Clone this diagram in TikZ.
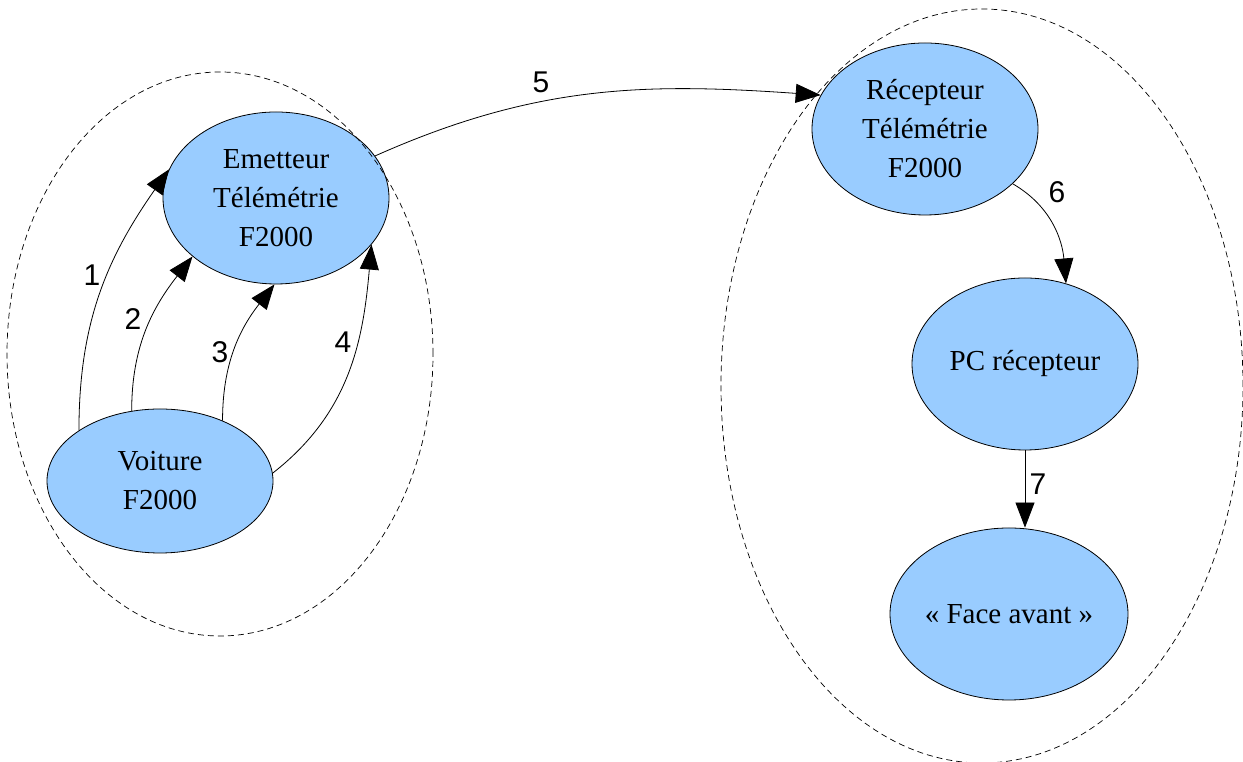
\documentclass[tikz,border=0pt]{standalone}
\usepackage{fontspec}
\setmainfont{Liberation Serif}
\newfontfamily\labelfont{Liberation Sans}
\usetikzlibrary{shapes.geometric,arrows.meta}
\definecolor{nodeblue}{HTML}{99CCFF}
\begin{document}
\begin{tikzpicture}[x=1pt,y=1pt,
  box/.style={ellipse, draw=black, line width=0.8pt, fill=nodeblue,
    minimum width=226pt, minimum height=172pt, inner sep=0pt, align=center,
    font=\fontsize{29}{39}\selectfont},
  grp/.style={ellipse, draw=black, line width=0.7pt, dash pattern=on 6pt off 4pt,
    inner sep=0pt},
  conn/.style={line width=0.8pt, -{Triangle[length=25pt,width=19pt]}},
  num/.style={inner sep=0pt, font=\labelfont\fontsize{30}{30}\selectfont}]
\useasboundingbox (0,0) rectangle (1243,762);

% nodes
\node[box] (emet) at (276,564) {Emetteur\\Télémétrie\\F2000};
\node[box, minimum height=144pt] (voit) at (160,281) {Voiture\\F2000};
\node[box] (rec) at (925,633) {Récepteur\\Télémétrie\\F2000};
\node[box] (pc) at (1025,398) {PC récepteur};
\node[box] (face) at (1009,148) {« Face avant »};

% group outlines
\node[grp, minimum width=426pt, minimum height=564pt] (gl) at (220,408) {};
\node[grp, minimum width=522pt, minimum height=754pt] (gr) at (982,376) {};

% connectors
\draw[conn] (voit.148) to[out=90, in=235] (emet.165);
\draw[conn] (voit.112) to[out=90, in=232] (emet.215);
\draw[conn] (voit.44) to[out=90, in=232] (emet.269);
\draw[conn] (voit.4) to[out=38, in=265] (emet.334);
\draw[conn] (emet.23) to[out=24, in=176] (rec.162);
\draw[conn] (rec.328) to[out=-30, in=95] (pc.63);
\draw[conn] (pc.south) -- (pc.south |- face.north);

% labels
\node[num] (l1) at (92,487) {1};
\node[num] (l2) at (133,443) {2};
\node[num] (l3) at (220,410) {3};
\node[num] (l4) at (343,420) {4};
\node[num] (l5) at (541,680) {5};
\node[num] (l6) at (1057,570) {6};
\node[num] (l7) at (1038,278) {7};
\end{tikzpicture}
\end{document}
